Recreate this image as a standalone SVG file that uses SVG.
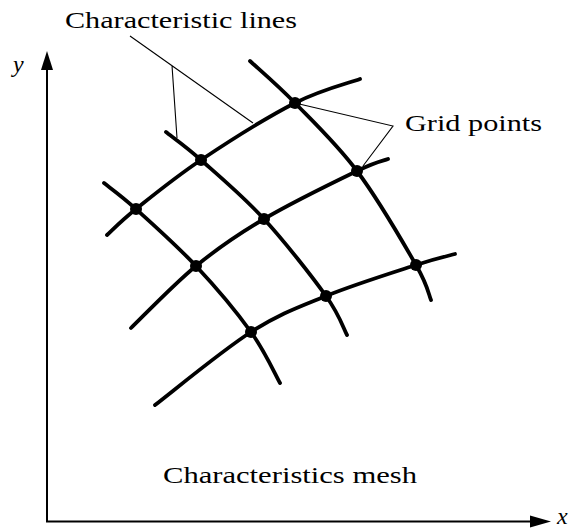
<svg xmlns="http://www.w3.org/2000/svg" width="574" height="530" viewBox="0 0 574 530">
<style>
.ch{fill:none;stroke:#000;stroke-width:3.8;stroke-linecap:round;stroke-linejoin:round}
.ld{fill:none;stroke:#000;stroke-width:1.1}
.ax{fill:none;stroke:#000;stroke-width:2}
.pt{fill:#000}
.t{font-family:"Liberation Serif","Times New Roman",serif;font-size:24px;fill:#000}
.v{font-family:"Liberation Serif","Times New Roman",serif;font-size:24px;font-style:italic;fill:#000}
</style>
<rect width="574" height="530" fill="#fff"/>
<g id="axes">
<line class="ax" x1="47" y1="521.5" x2="47" y2="66"/>
<polygon points="47,51 41,70 53,70" fill="#000"/>
<line class="ax" x1="46" y1="521.5" x2="534" y2="521.5"/>
<polygon points="551,521.5 530,515.5 530,527.5" fill="#000"/>
<text class="v" x="13" y="72">y</text>
<text class="v" x="557" y="524" font-size="20">x</text>
</g>
<g id="connectors">
<path class="ch" d="M107,235 C111.8,230.7 120.3,221.5 136,209 C151.7,196.5 174.5,177.7 201,160 C227.5,142.3 268.5,116.5 295,103 C321.5,89.5 349.2,83 360,79"/>
<path class="ch" d="M131,328 C141.8,317.7 173.8,284.2 196,266 C218.2,247.8 237.2,234.8 264,219 C290.8,203.2 336.3,181 357,171 C377.7,161 382.8,161 388,159"/>
<path class="ch" d="M155,405 C171,392.8 222.5,350.2 251,332 C279.5,313.8 298.5,307.2 326,296 C353.5,284.8 394.5,272 416,265 C437.5,258 448.5,255.8 455,254"/>
<path class="ch" d="M104,183 C109.3,187.3 120.7,195.2 136,209 C151.3,222.8 176.8,245.5 196,266 C215.2,286.5 237,312.5 251,332 C265,351.5 275.2,374.5 280,383"/>
<path class="ch" d="M166,132 C171.8,136.7 184.7,145.5 201,160 C217.3,174.5 243.2,196.3 264,219 C284.8,241.7 312.2,276.7 326,296 C339.8,315.3 343.5,328.5 347,335"/>
<path class="ch" d="M250,61 C257.5,68 277.2,84.7 295,103 C312.8,121.3 336.8,144 357,171 C377.2,198 403.7,243.5 416,265 C428.3,286.5 428.5,294.2 431,300"/>
<path class="ld" d="M130,36 L253,123 M172,65.5 L177,138"/>
<path class="ld" d="M295,103 L393,126 L363,166"/>
</g>
<g id="p1"><circle class="pt" cx="295" cy="103" r="6"/></g>
<g id="p2"><circle class="pt" cx="201" cy="160" r="6"/></g>
<g id="p3"><circle class="pt" cx="136" cy="209" r="6"/></g>
<g id="p4"><circle class="pt" cx="357" cy="171" r="6"/></g>
<g id="p5"><circle class="pt" cx="264" cy="219" r="6"/></g>
<g id="p6"><circle class="pt" cx="196" cy="266" r="6"/></g>
<g id="p7"><circle class="pt" cx="416" cy="265" r="6"/></g>
<g id="p8"><circle class="pt" cx="326" cy="296" r="6"/></g>
<g id="p9"><circle class="pt" cx="251" cy="332" r="6"/></g>
<g id="label-lines"><text class="t" x="65" y="28" textLength="232" lengthAdjust="spacingAndGlyphs">Characteristic lines</text></g>
<g id="label-points"><text class="t" x="405" y="131" textLength="137" lengthAdjust="spacingAndGlyphs">Grid points</text></g>
<g id="caption"><text class="t" x="163" y="483" textLength="254" lengthAdjust="spacingAndGlyphs">Characteristics mesh</text></g>
</svg>
